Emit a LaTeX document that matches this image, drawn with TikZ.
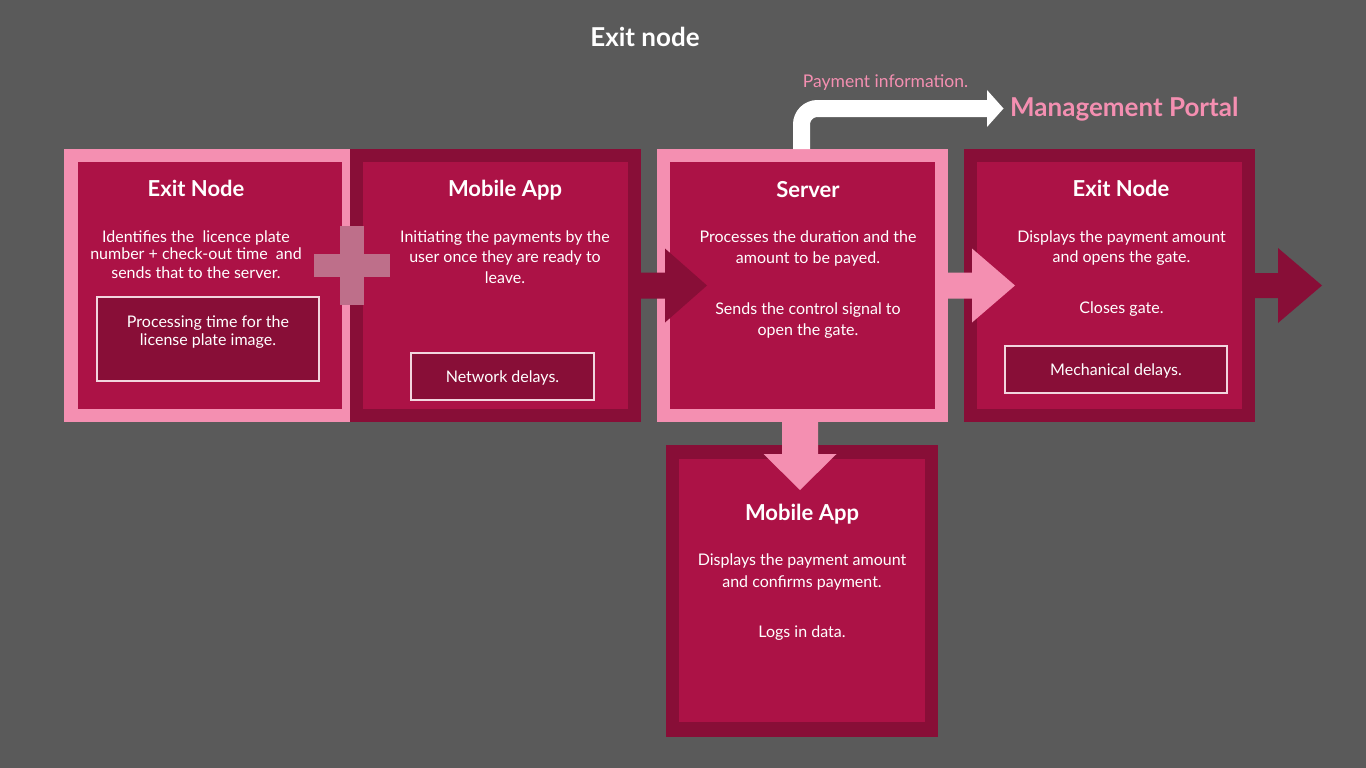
\documentclass[tikz,border=0pt]{standalone}
\usepackage{fontspec}
\setmainfont{Lato}
\usetikzlibrary{calc}
\definecolor{bgc}{HTML}{5A5A5A}
\definecolor{pinkc}{HTML}{F48FB1}
\definecolor{crim}{HTML}{AC1246}
\definecolor{darkc}{HTML}{880E37}
\definecolor{plusc}{HTML}{BE6F8A}
\definecolor{subline}{HTML}{F2D5DE}
\newcommand\hblockarrow[6]{\fill[#6] ($(#1)+(0,-#3)$) -- ($(#2)+(-#4,-#3)$) -- ($(#2)+(-#4,-#5)$) -- (#2) -- ($(#2)+(-#4,#5)$) -- ($(#2)+(-#4,#3)$) -- ($(#1)+(0,#3)$) -- cycle;}
\newcommand\vblockarrow[6]{\fill[#6] ($(#1)+(-#3,0)$) -- ($(#2)+(-#3,-#4)$) -- ($(#2)+(-#5,-#4)$) -- (#2) -- ($(#2)+(#5,-#4)$) -- ($(#2)+(#3,-#4)$) -- ($(#1)+(#3,0)$) -- cycle;}
\begin{document}
\begin{tikzpicture}[x=1pt,y=-1pt,
  box/.style={rectangle, inner sep=0pt, outer sep=0pt},
  ttl/.style={anchor=base, text=white, font=\fontsize{22}{26}\selectfont\bfseries, inner sep=0pt},
  body/.style={anchor=base, text=white, font=\fontsize{16}{19}\selectfont, inner sep=0pt},
  subbox/.style={box, fill=darkc, draw=subline, line width=1.5pt},
]
\fill[bgc] (0,0) rectangle (1366,768);
\useasboundingbox (0,0) rectangle (1366,768);

% boxes
\node[box, fill=pinkc, minimum width=291pt, minimum height=273pt] (b1) at (209.5,285.5) {};
\node[box, fill=crim, minimum width=264pt, minimum height=247pt] (b1i) at (210,285.5) {};
\node[box, fill=darkc, minimum width=291pt, minimum height=273pt] (b2) at (495.5,285.5) {};
\node[box, fill=crim, minimum width=265pt, minimum height=247pt] (b2i) at (495.5,285.5) {};
\node[box, fill=pinkc, minimum width=291pt, minimum height=273pt] (srv) at (802.5,285.5) {};
\node[box, fill=crim, minimum width=265pt, minimum height=247pt] (srvi) at (802.5,285.5) {};
\node[box, fill=darkc, minimum width=291pt, minimum height=273pt] (b4) at (1109.5,285.5) {};
\node[box, fill=crim, minimum width=265pt, minimum height=247pt] (b4i) at (1109.5,285.5) {};
\node[box, fill=darkc, minimum width=272pt, minimum height=292pt] (b5) at (802,591) {};
\node[box, fill=crim, minimum width=246pt, minimum height=263pt] (b5i) at (802,590.5) {};

% sub boxes
\node[subbox, minimum width=222pt, minimum height=84pt] (s1) at (208,339) {};
\node[subbox, minimum width=183pt, minimum height=47pt] (s2) at (502.5,376.5) {};
\node[subbox, minimum width=222pt, minimum height=47pt] (s4) at (1116,369.5) {};

% plus
\node[box, fill=plusc, minimum width=24pt, minimum height=79pt] (plusv) at (352,265.5) {};
\node[box, fill=plusc, minimum width=76pt, minimum height=23pt] (plush) at (352,265.5) {};

% arrows
\coordinate (a1t) at (707,285.5);
\hblockarrow{b2i.east}{a1t}{13}{42}{37}{darkc}
\coordinate (a2t) at (1015,285.5);
\hblockarrow{srvi.east}{a2t}{13}{43}{37}{pinkc}
\coordinate (a3t) at (1322,285.5);
\hblockarrow{b4i.east}{a3t}{12.5}{44}{37.5}{darkc}
\coordinate (a4t) at (800,490);
\coordinate (a4s) at (srvi.south -| a4t);
\vblockarrow{a4s}{a4t}{18}{36}{36.5}{pinkc}

% white arrow to management portal
\coordinate (mpin) at (987,108.5);
\coordinate (mpout) at (srv.north -| 801.5,0);
\draw[white, line width=17pt, rounded corners=16pt] (mpout) |- ($(mpin)+(1,0)$);
\fill[white] ($(mpin)+(0,-18.5)$) -- ($(mpin)+(16.5,0)$) -- ($(mpin)+(0,18.5)$) -- cycle;

% texts
\node[ttl, font=\fontsize{26}{30}\selectfont\bfseries] (title) at (645,47) {Exit node};
\node[anchor=base west, inner sep=0pt, text=pinkc, font=\fontsize{26}{30}\selectfont\bfseries] (mp) at (1010,117) {Management Portal};
\node[anchor=base, inner sep=0pt, text=pinkc, font=\fontsize{17.5}{20}\selectfont] (pinfo) at (885.5,88) {Payment information.};

\node[ttl] (t1) at (196,196) {Exit Node};
\node[body] (t1a) at (196,242) {Identifies the~ licence plate};
\node[body] (t1b) at (196,259) {number + check-out time~ and};
\node[body] (t1c) at (196,278) {sends that to the server.};
\node[body] (s1a) at (208,327) {Processing time for the};
\node[body] (s1b) at (208,345) {license plate image.};

\node[ttl] (t2) at (505,196) {Mobile App};
\node[body] (t2a) at (505,242) {Initiating the payments by the};
\node[body] (t2b) at (505,262) {user once they are ready to};
\node[body] (t2c) at (505,283) {leave.};
\node[body] (s2a) at (502.5,382) {Network delays.};

\node[ttl] (t3) at (808,197) {Server};
\node[body] (t3a) at (808,242) {Processes the duration and the};
\node[body] (t3b) at (808,263) {amount to be payed.};
\node[body] (t3c) at (808,314) {Sends the control signal to};
\node[body] (t3d) at (808,335) {open the gate.};

\node[ttl] (t4) at (1121,196) {Exit Node};
\node[body] (t4a) at (1121.5,242) {Displays the payment amount};
\node[body] (t4b) at (1121.5,262) {and opens the gate.};
\node[body] (t4c) at (1121.5,313) {Closes gate.};
\node[body] (s4a) at (1116,375) {Mechanical delays.};

\node[ttl] (t5) at (802,520) {Mobile App};
\node[body] (t5a) at (802,565) {Displays the payment amount};
\node[body] (t5b) at (802,587) {and confirms payment.};
\node[body] (t5c) at (802,637) {Logs in data.};
\end{tikzpicture}
\end{document}
